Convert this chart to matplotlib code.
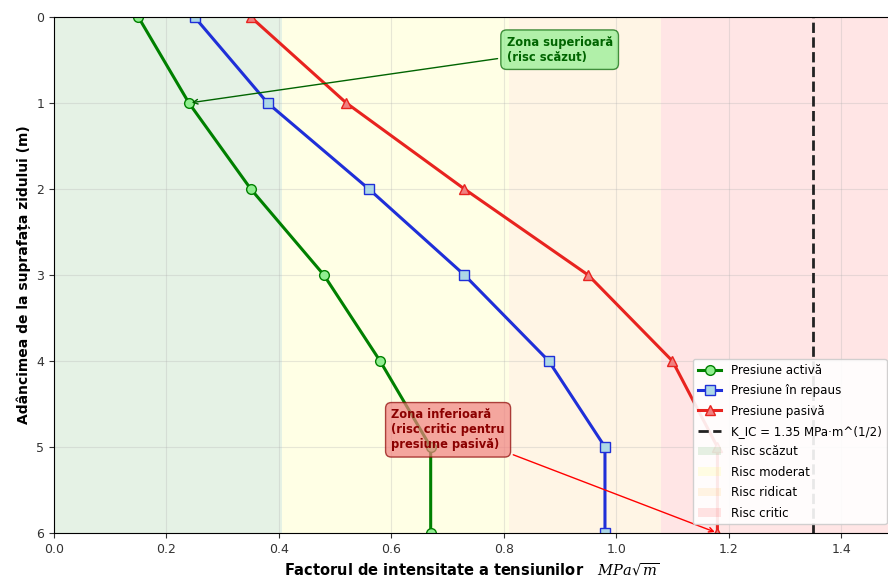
import matplotlib
matplotlib.use("Agg")
import matplotlib.pyplot as plt

depth = [0, 1, 2, 3, 4, 5, 6]
activa = [0.15, 0.24, 0.35, 0.48, 0.58, 0.67, 0.67]
repaus = [0.25, 0.38, 0.56, 0.73, 0.88, 0.98, 0.98]
pasiva = [0.35, 0.52, 0.73, 0.95, 1.10, 1.18, 1.18]
K_IC = 1.35

plt.rcParams['mathtext.fontset'] = 'dejavuserif'

fig = plt.figure(figsize=(8.88, 5.84), dpi=100)
ax = fig.add_axes([54/888, 1-533/584, 1-54/888+0.001, (533-17)/584])

xmax = K_IC * 1.1
ax.axvspan(0, 0.3*K_IC, color='green', alpha=0.1, label='Risc scăzut', lw=0)
ax.axvspan(0.3*K_IC, 0.6*K_IC, color='yellow', alpha=0.1, label='Risc moderat', lw=0)
ax.axvspan(0.6*K_IC, 0.8*K_IC, color='orange', alpha=0.1, label='Risc ridicat', lw=0)
ax.axvspan(0.8*K_IC, xmax, color='red', alpha=0.1, label='Risc critic', lw=0)

ax.plot(activa, depth, '-o', color='green', lw=2.2, ms=7, mfc='lightgreen', mec='green', label='Presiune activă')
ax.plot(repaus, depth, '-s', color='#1f2fd8', lw=2.2, ms=7, mfc='lightblue', mec='#1f2fd8', label='Presiune în repaus')
ax.plot(pasiva, depth, '-^', color='#e8231f', lw=2.2, ms=7, mfc='lightcoral', mec='#e8231f', label='Presiune pasivă')
ax.axvline(K_IC, color='#222222', ls='--', lw=2, label='K_IC = 1.35 MPa·m^(1/2)')

ax.set_xlim(0, xmax)
ax.set_ylim(6, 0)
ax.grid(True, alpha=0.3)
ax.tick_params(labelsize=9, colors='#333333')

ax.set_xlabel('Factorul de intensitate a tensiunilor   $MPa\\sqrt{m}$', fontsize=10.5, fontweight='bold')
ax.set_ylabel('Adâncimea de la suprafața zidului (m)', fontsize=10, fontweight='bold')

ax.annotate('Zona superioară\n(risc scăzut)', xy=(activa[1], depth[1]), xytext=(0.805, 0.38),
            fontsize=8.3, fontweight='bold', color='darkgreen', ha='left', va='center',
            bbox=dict(boxstyle='round,pad=0.5', fc='lightgreen', ec='darkgreen', alpha=0.7),
            arrowprops=dict(arrowstyle='->', color='darkgreen', lw=1))
ax.annotate('Zona inferioară\n(risc critic pentru\npresiune pasivă)', xy=(pasiva[6], depth[6]), xytext=(0.60, 4.8),
            fontsize=8.3, fontweight='bold', color='darkred', ha='left', va='center',
            bbox=dict(boxstyle='round,pad=0.5', fc='lightcoral', ec='darkred', alpha=0.7),
            arrowprops=dict(arrowstyle='->', color='red', lw=1))

handles, labels = ax.get_legend_handles_labels()
order = [4, 5, 6, 7, 0, 1, 2, 3]
ax.legend([handles[i] for i in order], [labels[i] for i in order], loc='lower left',
          fontsize=8.6, framealpha=0.9, labelspacing=0.62, bbox_to_anchor=(0.758, 0.005))

fig.savefig('out.png', dpi=100)
